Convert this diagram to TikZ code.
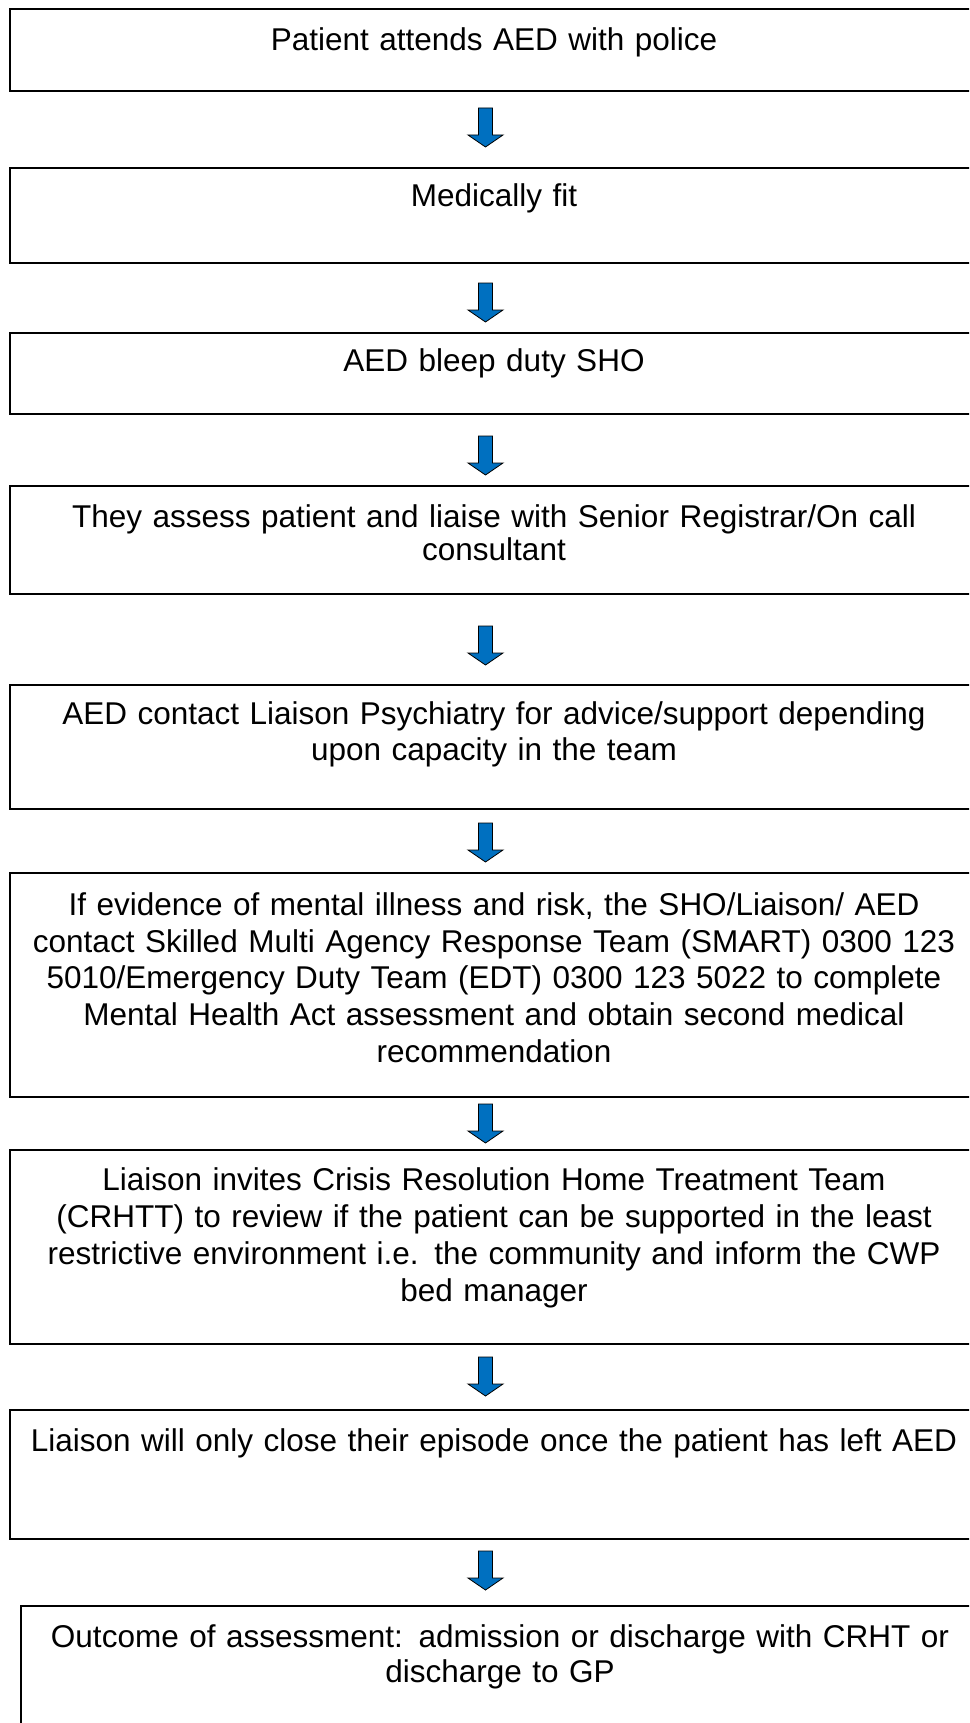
\documentclass[tikz,border=0pt]{standalone}
\usepackage{fontspec}
\setmainfont{Liberation Sans}
\definecolor{arrowblue}{RGB}{0,112,192}
\begin{document}
\begin{tikzpicture}[x=1pt,y=-1pt,
  box/.style={draw=black, line width=1.6pt, rectangle, inner sep=0pt, outer sep=0pt, anchor=north west, minimum width=968pt},
  lbl/.style={anchor=base, inner sep=0pt, text width=960pt, align=center},
  fs/.style={font=\fontsize{31.5}{#1}\selectfont},
  flowarrow/.style={fill=arrowblue, draw=black, line width=0.8pt, line join=miter},
  downarr/.pic={\draw[flowarrow] (-7,0) -- (7,0) -- (7,27) -- (17.5,27) -- (0,39) -- (-17.5,27) -- (-7,27) -- cycle;}]
\useasboundingbox (0,0) rectangle (969,1723);
\clip (0,0) rectangle (969,1723);
\fill[white] (0,0) rectangle (969,1723);
% boxes
\node[box, minimum height=82pt] (b1) at (10,9) {};
\node[box, minimum height=95pt] (b2) at (10,168) {};
\node[box, minimum height=81pt] (b3) at (10,333) {};
\node[box, minimum height=108pt] (b4) at (10,486) {};
\node[box, minimum height=124pt] (b5) at (10,685) {};
\node[box, minimum height=224pt] (b6) at (10,873) {};
\node[box, minimum height=194pt] (b7) at (10,1150) {};
\node[box, minimum height=129pt] (b8) at (10,1410) {};
\node[box, minimum height=200pt, minimum width=960pt] (b9) at (21,1606) {};
% labels
\node[lbl, fs=36] (t1) at (494,51) {Patient attends AED with police};
\node[lbl, fs=36] (t2) at (494,207) {Medically fit};
\node[lbl, fs=36] (t3) at (494,371) {AED bleep duty SHO};
\node[lbl, fs=33.5] (t4) at (494,527) {They assess patient and liaise with Senior Registrar/On call\\consultant};
\node[lbl, fs=36] (t5) at (494,724.6) {AED contact Liaison Psychiatry for advice/support depending\\upon capacity in the team};
\node[lbl, fs=36.7] (t6) at (494,915.4) {If evidence of mental illness and risk, the SHO/Liaison/ AED\\contact Skilled Multi Agency Response Team (SMART) 0300 123\\5010/Emergency Duty Team (EDT) 0300 123 5022 to complete\\Mental Health Act assessment and obtain second medical\\recommendation};
\node[lbl, fs=37] (t7) at (494,1190) {Liaison invites Crisis Resolution Home Treatment Team\\(CRHTT) to review if the patient can be supported in the least\\restrictive environment i.e. the community and inform the CWP\\bed manager};
\node[lbl, fs=36] (t8) at (494,1451) {Liaison will only close their episode once the patient has left AED};
\node[lbl, fs=35] (t9) at (500,1647) {Outcome of assessment: admission or discharge with CRHT or\\discharge to GP};
% arrows
\coordinate (a1) at (485.5,108);
\coordinate (a2) at (485.5,283);
\coordinate (a3) at (485.5,436);
\coordinate (a4) at (485.5,626);
\coordinate (a5) at (485.5,823);
\coordinate (a6) at (485.5,1104);
\coordinate (a7) at (485.5,1357);
\coordinate (a8) at (485.5,1551);
\foreach \a in {a1,a2,a3,a4,a5,a6,a7,a8} \pic at (\a) {downarr};
\end{tikzpicture}
\end{document}
